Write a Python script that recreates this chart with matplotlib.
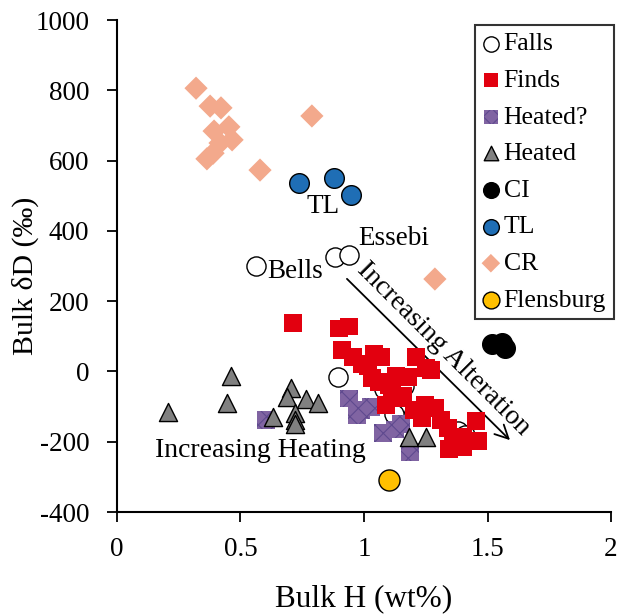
import matplotlib
matplotlib.use("Agg")
import matplotlib.pyplot as plt

plt.rcParams['font.family'] = ['Liberation Serif', 'DejaVu Serif']
plt.rcParams['hatch.linewidth'] = 0.8
plt.rcParams['axes.unicode_minus'] = False

# ---- data (Bulk H wt%, Bulk dD permil) ----
falls_h = [0.563, 0.883, 0.939, 0.895, 1.08, 1.16, 1.13, 1.12, 1.38, 1.41]
falls_d = [300, 326, 331, -16, -50, -40, -100, -120, -170, -180]

finds_h = [0.713, 0.900, 0.940, 0.911, 0.955, 1.016, 1.069, 1.060, 1.130, 1.178,
           1.210, 1.250, 1.271, 1.113, 1.150, 1.202, 1.247, 1.287, 1.235, 1.312,
           1.340, 1.360, 1.401, 1.453, 1.462, 1.401, 1.345, 0.992, 1.032, 1.101, 1.040,
           1.090, 1.160]
finds_d = [138, 122, 128, 60, 40, 15, 41, -30, -13, -16,
           40, 10, 4, -61, -76, -110, -96, -104, -133, -138,
           -160, -195, -187, -141, -198, -215, -220, 20, -19, -39, 50,
           -95, -70]

heatedq_h = [0.939, 0.990, 1.028, 0.970, 1.077, 1.126, 1.186, 1.150, 0.603]
heatedq_d = [-77, -110, -100, -125, -175, -165, -229, -150, -138]

heated_h = [0.206, 0.462, 0.445, 0.704, 0.688, 0.765, 0.814, 0.632, 0.721, 0.721, 0.721, 1.182, 1.251]
heated_d = [-115, -13, -90, -47, -73, -79, -90, -130, -118, -138, -150, -187, -187]

ci_h = [1.52, 1.56, 1.57]
ci_d = [78, 80, 67]

tl_h = [0.737, 0.879, 0.947]
tl_d = [536, 550, 502]

cr_h = [0.320, 0.377, 0.421, 0.393, 0.453, 0.466, 0.417, 0.389, 0.364, 0.579, 0.789, 1.287]
cr_d = [806, 755, 750, 684, 696, 659, 650, 621, 605, 573, 727, 263]

flens_h = [1.10]
flens_d = [-309]

x_ticks = [0, 0.5, 1, 1.5, 2]
x_tick_labels = ['0', '0.5', '1', '1.5', '2']
y_ticks = [-400, -200, 0, 200, 400, 600, 800, 1000]

fig = plt.figure(figsize=(6.2, 6.16), dpi=100)
ax = fig.add_axes([0.1887, 0.1688, 0.7968, 0.7987])

ax.scatter(falls_h, falls_d, s=190, marker='o', facecolor='white', edgecolor='black',
           linewidth=1.0, label='Falls', zorder=2)
ax.scatter(finds_h, finds_d, s=165, marker='s', facecolor='#E2000F', edgecolor='none',
           label='Finds', zorder=4)
ax.scatter(heatedq_h, heatedq_d, s=165, marker='s', facecolor='#8064A2', edgecolor='#5F4A8F',
           linewidth=0, hatch='xx', label='Heated?', zorder=3)
ax.scatter(heated_h, heated_d, s=170, marker='^', facecolor='#808080', edgecolor='black',
           linewidth=1.0, label='Heated', zorder=5)
ax.scatter(ci_h, ci_d, s=200, marker='o', facecolor='black', edgecolor='black',
           linewidth=1.0, label='CI', zorder=5)
ax.scatter(tl_h, tl_d, s=200, marker='o', facecolor='#1F6EB5', edgecolor='black',
           linewidth=1.0, label='TL', zorder=5)
ax.scatter(cr_h, cr_d, s=140, marker='D', facecolor='#F3A98C', edgecolor='none',
           label='CR', zorder=5)
ax.scatter(flens_h, flens_d, s=230, marker='o', facecolor='#FFC000', edgecolor='black',
           linewidth=1.0, label='Flensburg', zorder=5)

ax.set_xlim(0, 2)
ax.set_ylim(-400, 1000)
ax.set_xticks(x_ticks)
ax.set_xticklabels(x_tick_labels)
ax.set_yticks(y_ticks)
ax.tick_params(direction='out', length=7, width=1.3, labelsize=19.5)
ax.tick_params(axis='y', pad=13)
ax.tick_params(axis='x', pad=11)
for s in ['top', 'right']:
    ax.spines[s].set_visible(False)
for s in ['left', 'bottom']:
    ax.spines[s].set_linewidth(1.5)

ax.set_xlabel('Bulk H (wt%)', fontsize=22.5, labelpad=16)
ax.set_ylabel('Bulk \u03b4D (\u2030)', fontsize=21.5)
ax.yaxis.set_label_coords(-0.158, 0.48)

# annotations
ax.text(0.834, 468, 'TL', fontsize=19.5, ha='center', va='center')
ax.text(0.61, 283, 'Bells', fontsize=19.5, ha='left', va='center')
ax.text(0.975, 378, 'Essebi', fontsize=19.5, ha='left', va='center')
ax.text(0.58, -225, 'Increasing Heating', fontsize=20, ha='center', va='center')
ax.annotate('', xy=(1.599, -201), xytext=(0.923, 269),
            arrowprops=dict(arrowstyle='->', lw=1.3, color='black', mutation_scale=24))
ax.text(1.322, 64, 'Increasing Alteration', fontsize=20, ha='center', va='center',
        rotation=-45, rotation_mode='anchor')

leg = ax.legend(loc='upper right', bbox_to_anchor=(0.99, 0.96), bbox_transform=fig.transFigure,
                fontsize=18.5, frameon=True, fancybox=False, edgecolor='black',
                handlelength=0.6, handletextpad=0.2, labelspacing=0.53, borderpad=0.3,
                borderaxespad=0, markerscale=0.8)
leg.get_frame().set_linewidth(1.5)

fig.savefig('out.png', dpi=100)
